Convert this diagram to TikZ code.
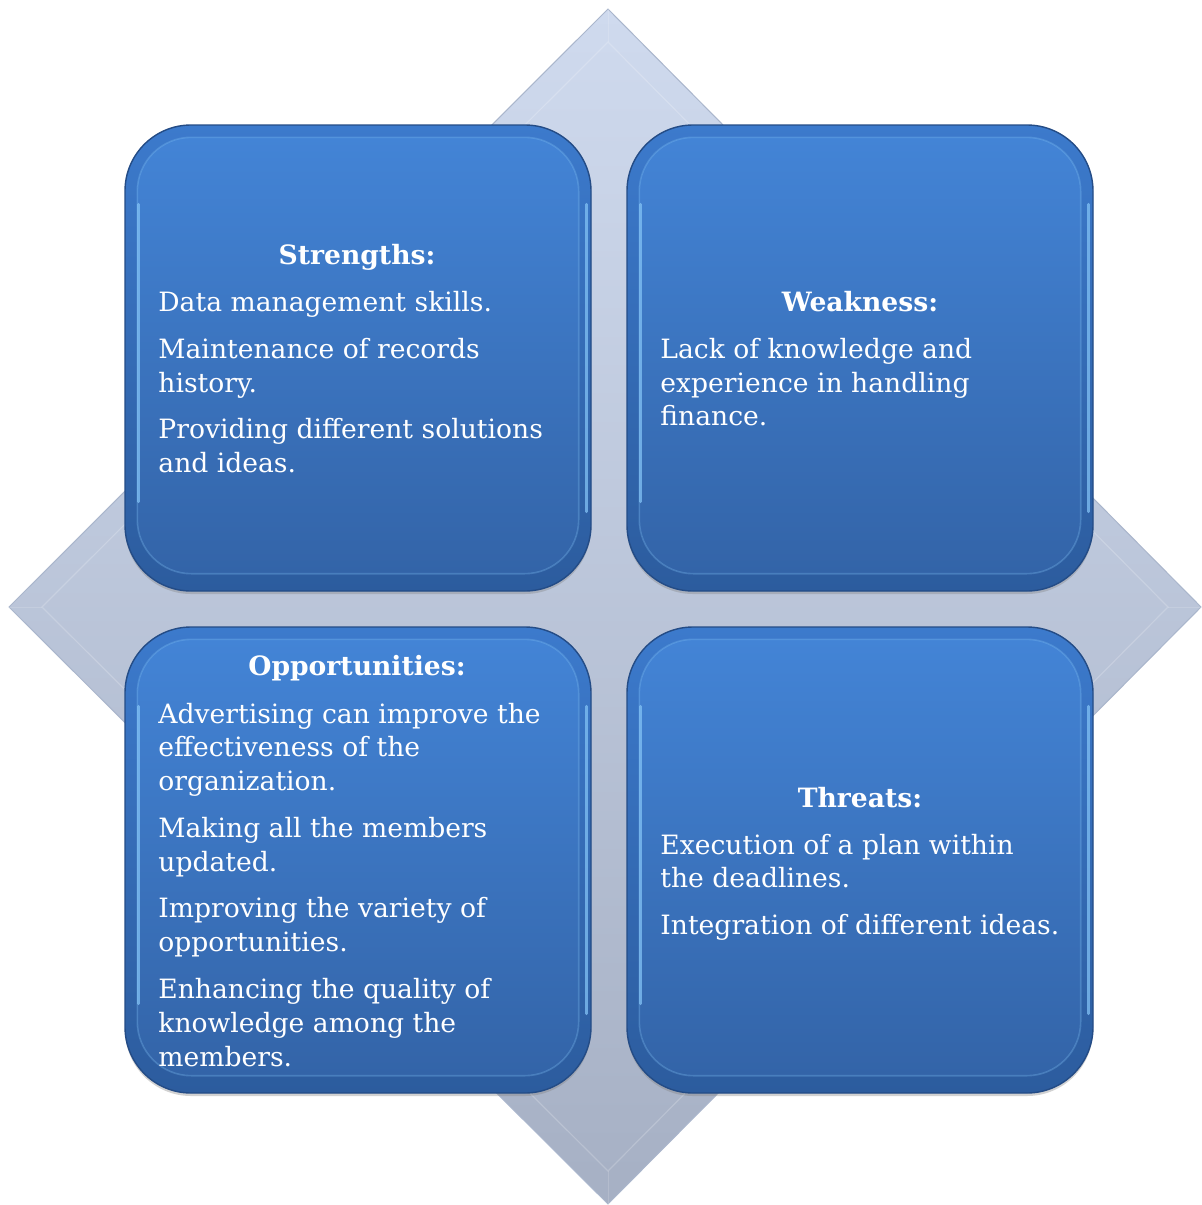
\documentclass[tikz,border=0pt]{standalone}
\usepackage{fontspec}
\setmainfont{DejaVu Serif}
\usetikzlibrary{shadows}
\definecolor{dtop}{RGB}{207,218,238}
\definecolor{dbot}{RGB}{166,176,196}
\definecolor{dedge}{RGB}{170,182,204}
\definecolor{rimtop}{RGB}{60,122,204}
\definecolor{rimbot}{RGB}{44,92,158}
\definecolor{rimline}{RGB}{36,76,134}
\definecolor{facetop}{RGB}{67,132,214}
\definecolor{facebot}{RGB}{51,100,168}
\definecolor{facehi}{RGB}{130,194,245}
\tikzset{
  boxshape/.style={minimum width=233pt, minimum height=233pt, rounded corners=33pt,
    top color=rimtop, bottom color=rimbot, draw=rimline, line width=0.7pt,
    drop shadow={opacity=0.35, shadow xshift=0pt, shadow yshift=-1.5pt}},
  boxface/.style={rounded corners=27pt, top color=facetop, bottom color=facebot,
    draw=facehi, draw opacity=0.3, line width=0.8pt},
  glint/.style={facehi, line width=1.4pt, opacity=0.75, line cap=round},
  body/.style={anchor=base west, inner sep=0pt, text=white, font=\fontsize{13.3}{17}\selectfont},
  ttl/.style={anchor=base, inner sep=0pt, text=white, font=\fontsize{13.3}{17}\selectfont\bfseries}
}
\begin{document}
\begin{tikzpicture}[x=0.5pt,y=-0.5pt]
\useasboundingbox (0,0) rectangle (1202,1205);
\fill[white] (0,0) rectangle (1202,1205);
% background diamond
\coordinate (dT) at (608,9);
\coordinate (dR) at (1201,607);
\coordinate (dB) at (608,1204);
\coordinate (dL) at (9,607);
\coordinate (iT) at (608,42);
\coordinate (iR) at (1168,607);
\coordinate (iB) at (608,1171);
\coordinate (iL) at (42,607);
\shade[top color=dtop, bottom color=dbot, draw=dedge, line width=0.5pt] (dT) -- (dR) -- (dB) -- (dL) -- cycle;
\draw[white, opacity=0.2, line width=0.6pt] (iT) -- (iR) -- (iB) -- (iL) -- cycle;
\draw[white, opacity=0.15, line width=0.5pt] (dT) -- (iT) (dR) -- (iR) (dB) -- (iB) (dL) -- (iL);
% boxes
\node[boxshape] (S) at (358,358) {};
\node[boxshape] (W) at (860,358) {};
\node[boxshape] (O) at (358,860) {};
\node[boxshape] (T) at (860,860) {};
\foreach \b in {S,W,O,T}{
  \path[boxface] ([shift={(13,13)}]\b.north west) rectangle ([shift={(-13,-18)}]\b.south east);
  \draw[glint] ([shift={(14,80)}]\b.north west) -- ([shift={(14,-90)}]\b.south west);
  \draw[glint] ([shift={(-5,80)}]\b.north east) -- ([shift={(-5,-80)}]\b.south east);
}
% Strengths
\node[ttl] (s0) at (357,264) {Strengths:};
\node[body] (s1) at (158,311) {Data management skills.};
\node[body] (s2) at (158,358) {Maintenance of records};
\node[body] (s3) at (158,392) {history.};
\node[body] (s4) at (158,438) {Providing different solutions};
\node[body] (s5) at (158,472) {and ideas.};
% Weakness
\node[ttl] (w0) at (860,311) {Weakness:};
\node[body] (w1) at (660,358) {Lack of knowledge and};
\node[body] (w2) at (660,392) {experience in handling};
\node[body] (w3) at (660,425) {finance.};
% Opportunities
\node[ttl] (o0) at (357,675) {Opportunities:};
\node[body] (o1) at (158,723) {Advertising can improve the};
\node[body] (o2) at (158,756) {effectiveness of the};
\node[body] (o3) at (158,790) {organization.};
\node[body] (o4) at (158,837) {Making all the members};
\node[body] (o5) at (158,871) {updated.};
\node[body] (o6) at (158,917) {Improving the variety of};
\node[body] (o7) at (158,951) {opportunities.};
\node[body] (o8) at (158,998) {Enhancing the quality of};
\node[body] (o9) at (158,1032) {knowledge among the};
\node[body] (o10) at (158,1066) {members.};
% Threats
\node[ttl] (t0) at (860,807) {Threats:};
\node[body] (t1) at (660,854) {Execution of a plan within};
\node[body] (t2) at (660,887) {the deadlines.};
\node[body] (t3) at (660,934) {Integration of different ideas.};
\end{tikzpicture}
\end{document}
